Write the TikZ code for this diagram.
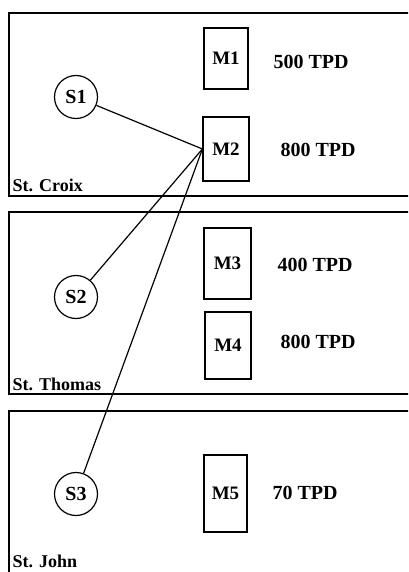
\documentclass[tikz,border=0pt]{standalone}
\usepackage{fontspec}
\setmainfont{Liberation Serif}
\begin{document}
\begin{tikzpicture}[x=1pt,y=-1pt,line width=1.2pt,
	site/.style={circle,draw,minimum size=43pt,inner sep=0pt,font=\fontsize{20}{22}\selectfont\bfseries},
	mill/.style={draw,inner sep=0pt,font=\fontsize{19}{21}\selectfont\bfseries},
	rate/.style={font=\fontsize{20}{22}\selectfont\bfseries},
	island/.style={anchor=base west,inner sep=0pt,font=\fontsize{18}{20}\selectfont\bfseries}]
	\useasboundingbox (0,0) rectangle (408,572);
	\begin{scope}
		\clip (0,0) rectangle (408,572);
		\draw (9,13) rectangle (420,196);
		\draw (9,212) rectangle (420,394);
		\draw (9,411) rectangle (420,590);
	\end{scope}
	% islands
	\node[island] (croix) at (12,191) {St. Croix};
	\node[island] (thomas) at (12,390) {St. Thomas};
	\node[island] (john) at (12,567) {St. John};
	% sites
	\node[site] (S1) at (76,97) {S1};
	\node[site] (S2) at (76,297) {S2};
	\node[site] (S3) at (76,494) {S3};
	% mills
	\node[mill,minimum width=44pt,minimum height=61pt] (M1) at (226,58.5) {M1};
	\node[mill,minimum width=46pt,minimum height=64pt] (M2) at (226,149) {M2};
	\node[mill,minimum width=47pt,minimum height=71pt] (M3) at (227.5,263.5) {M3};
	\node[mill,minimum width=46pt,minimum height=67pt] (M4) at (228,345.5) {M4};
	\node[mill,minimum width=43pt,minimum height=77pt] (M5) at (225.5,493.5) {M5};
	% capacities
	\node[rate] (c1) at (311,62) {500 TPD};
	\node[rate] (c2) at (318,150) {800 TPD};
	\node[rate] (c3) at (315,265) {400 TPD};
	\node[rate] (c4) at (318,342) {800 TPD};
	\node[rate] (c5) at (305,493) {70 TPD};
	% links
	\draw (S1) -- (M2.west);
	\draw (S2) -- (M2.west);
	\draw (S3) -- (M2.west);
\end{tikzpicture}
\end{document}
